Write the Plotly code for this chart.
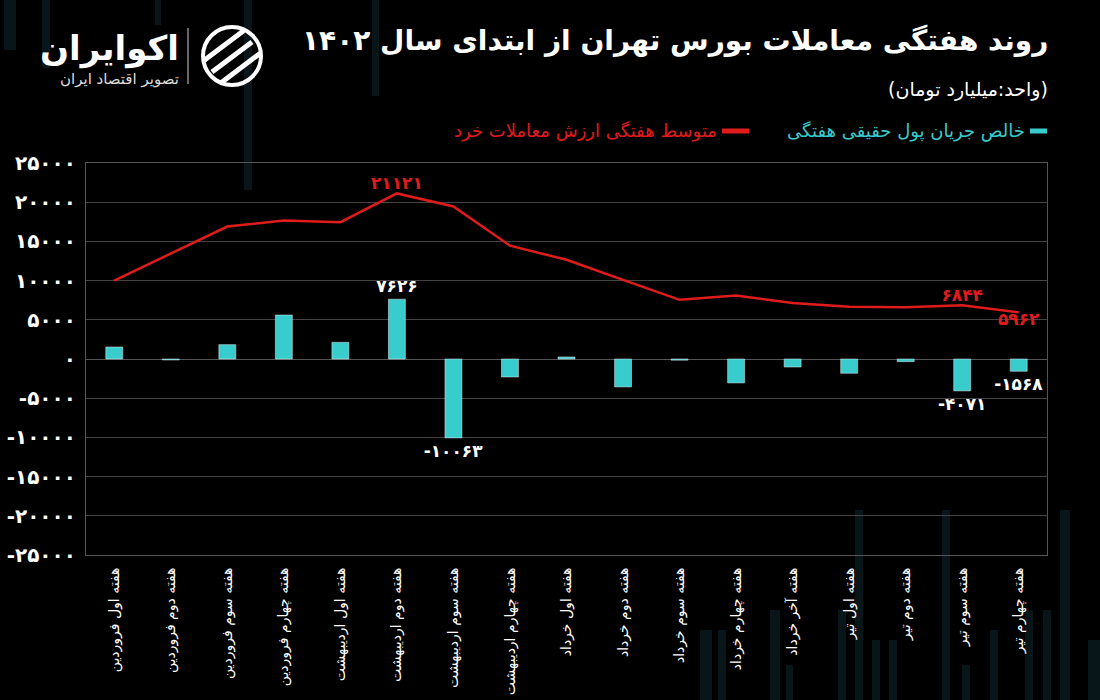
import plotly.graph_objects as go

weeks = [
    "هفته اول فروردین", "هفته دوم فروردین", "هفته سوم فروردین", "هفته چهارم فروردین",
    "هفته اول اردیبهشت", "هفته دوم اردیبهشت", "هفته سوم اردیبهشت", "هفته چهارم اردیبهشت",
    "هفته اول خرداد", "هفته دوم خرداد", "هفته سوم خرداد", "هفته چهارم خرداد",
    "هفته آخر خرداد", "هفته اول تیر", "هفته دوم تیر", "هفته سوم تیر", "هفته چهارم تیر",
]
net_flow = [1530, -120, 1830, 5610, 2125, 7626, -10063, -2295, 260,
            -3560, -150, -3050, -1020, -1820, -340, -4071, -1568]
retail_avg = [10000, 13400, 16900, 17650, 17450, 21121, 19450, 14450, 12650,
              10100, 7550, 8100, 7150, 6650, 6600, 6844, 5962]
flow_labeled = [5, 6, 15, 16]
avg_labeled = [5, 15, 16]
y_ticks = [25000, 20000, 15000, 10000, 5000, 0, -5000, -10000, -15000, -20000, -25000]

title = "روند هفتگی معاملات بورس تهران از ابتدای سال ۱۴۰۲"
unit = "(واحد:میلیارد تومان)"
name_flow = "خالص جریان پول حقیقی هفتگی"
name_avg = "متوسط هفتگی ارزش معاملات خرد"

FA = str.maketrans("0123456789", "۰۱۲۳۴۵۶۷۸۹")


def fa(n):
    return str(n).translate(FA)


TEAL = "#38cccc"
RED = "#e01b1b"
FONT = "DejaVu Sans"

W, H = 1100, 700
L, R, T, B = 86, 53, 163, 145
pw, ph = W - L - R, H - T - B


def px_x(x):
    return (x - L) / pw


def px_y(y):
    return (H - B - y) / ph


fig = go.Figure()

fig.add_trace(go.Bar(
    x=weeks, y=net_flow, name=name_flow, marker_color=TEAL, width=0.3,
    text=[fa(v) if i in flow_labeled else "" for i, v in enumerate(net_flow)],
    textposition="outside", constraintext="none", cliponaxis=False,
    textfont=dict(color="white", size=17, family=FONT, weight="bold"),
    showlegend=False,
))

fig.add_trace(go.Scatter(
    x=weeks, y=retail_avg, name=name_avg, mode="lines+text",
    line=dict(color=RED, width=2.5),
    text=[fa(v) if i in avg_labeled else "" for i, v in enumerate(retail_avg)],
    textposition=["bottom center" if i == 16 else "top center" for i in range(len(weeks))],
    textfont=dict(color=RED, size=17, family=FONT, weight="bold"),
    cliponaxis=False, showlegend=False,
))

# faint decorative background bars (pixel boxes: x0, x1, y_top, y_bottom)
deco = [
    (4, 16, 0, 50), (42, 50, 0, 68), (244, 252, 0, 190), (372, 379, 0, 96), (155, 161, 0, 25),
    (700, 712, 630, 700), (718, 726, 630, 700), (770, 780, 610, 700), (786, 793, 665, 700),
    (838, 846, 610, 700), (855, 863, 510, 700), (872, 880, 640, 700), (889, 897, 640, 700),
    (942, 950, 510, 700), (962, 970, 665, 700), (990, 998, 630, 700), (1025, 1033, 610, 700),
    (1043, 1051, 610, 700), (1060, 1070, 510, 700), (1088, 1100, 640, 700),
]
shapes = []
for x0, x1, yt, yb in deco:
    shapes.append(dict(type="rect", xref="paper", yref="paper",
                       x0=px_x(x0), x1=px_x(x1), y0=px_y(yb), y1=px_y(yt),
                       fillcolor="rgba(14,38,46,0.55)", line=dict(width=0), layer="below"))

# legend markers
shapes.append(dict(type="line", xref="paper", yref="paper",
                   x0=px_x(1030), x1=px_x(1047), y0=px_y(131), y1=px_y(131),
                   line=dict(color=TEAL, width=5)))
shapes.append(dict(type="line", xref="paper", yref="paper",
                   x0=px_x(722), x1=px_x(749), y0=px_y(131), y1=px_y(131),
                   line=dict(color=RED, width=5)))
# logo divider
shapes.append(dict(type="line", xref="paper", yref="paper",
                   x0=px_x(188), x1=px_x(188), y0=px_y(28), y1=px_y(84),
                   line=dict(color="#cccccc", width=1)))
# logo icon: ring with diagonal stripes
shapes.append(dict(type="circle", xref="paper", yref="paper",
                   x0=px_x(203), x1=px_x(261), y0=px_y(27), y1=px_y(85),
                   line=dict(color="white", width=4)))
for k in range(3):
    d = -14 + k * 14
    shapes.append(dict(type="line", xref="paper", yref="paper",
                       x0=px_x(212 + d * 0.6), x1=px_x(252 + d * 0.6),
                       y0=px_y(72 + d * 0.8), y1=px_y(42 + d * 0.8),
                       line=dict(color="white", width=5)))

anns = [
    dict(text="<b>" + title + "</b>", x=px_x(1050), y=px_y(41), xanchor="right", yanchor="middle",
         font=dict(size=28, color="white", family=FONT)),
    dict(text=unit, x=px_x(1050), y=px_y(90), xanchor="right", yanchor="middle",
         font=dict(size=19, color="white", family=FONT)),
    dict(text=name_flow, x=px_x(1027), y=px_y(131), xanchor="right", yanchor="middle",
         font=dict(size=18, color=TEAL, family=FONT)),
    dict(text=name_avg, x=px_x(719), y=px_y(131), xanchor="right", yanchor="middle",
         font=dict(size=18, color=RED, family=FONT)),
    dict(text="<b>اکوایران</b>", x=px_x(181), y=px_y(48), xanchor="right", yanchor="middle",
         font=dict(size=34, color="white", family=FONT)),
    dict(text="تصویر اقتصاد ایران", x=px_x(181), y=px_y(79), xanchor="right", yanchor="middle",
         font=dict(size=15, color="#dddddd", family=FONT)),
]
for a in anns:
    a.update(xref="paper", yref="paper", showarrow=False)

fig.update_layout(
    width=W, height=H,
    paper_bgcolor="black", plot_bgcolor="black",
    margin=dict(l=L, r=R, t=T, b=B),
    font=dict(family=FONT, color="white"),
    xaxis=dict(
        type="category", range=[-0.5, 16.5], automargin=False,
        tickangle=-90, tickfont=dict(size=14, color="white", family=FONT),
        showline=True, linecolor="#555", linewidth=1, mirror=True, showgrid=False,
        ticks="", ticklabelstandoff=6,
    ),
    yaxis=dict(
        range=[-25000, 25000], automargin=False,
        tickvals=y_ticks, ticktext=[fa(v) for v in y_ticks],
        tickfont=dict(size=20, color="white", family=FONT, weight="bold"),
        showline=True, linecolor="#555", linewidth=1, mirror=True,
        gridcolor="#444", gridwidth=1, zeroline=True, zerolinecolor="#555", zerolinewidth=1,
        ticks="", ticklabelstandoff=5,
    ),
    shapes=shapes, annotations=anns,
)

fig.write_html("out.html")
